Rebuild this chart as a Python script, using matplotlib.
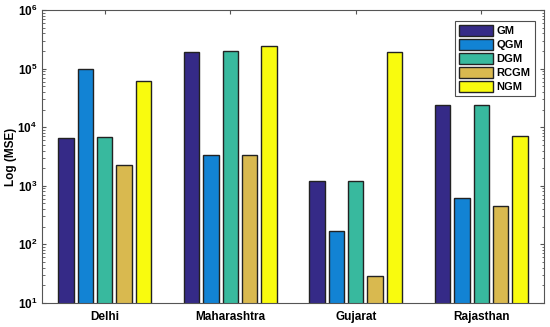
import numpy as np
import matplotlib.pyplot as plt
from matplotlib.ticker import LogLocator, NullFormatter

plt.rcParams['font.family'] = ['Liberation Sans', 'DejaVu Sans']
plt.rcParams['font.weight'] = 'bold'

# data
states = ["Delhi", "Maharashtra", "Gujarat", "Rajasthan"]
models = ["GM", "QGM", "DGM", "RCGM", "NGM"]
gm = [6600, 195000, 1200, 24000]
qgm = [98000, 3300, 167, 610]
dgm = [6700, 200000, 1220, 24000]
rcgm = [2300, 3400, 29, 450]
ngm = [62000, 245000, 195000, 7000]
series = [gm, qgm, dgm, rcgm, ngm]

colors = ["#352a87", "#1283d4", "#38b99e", "#d9b94f", "#f9fb0e"]

fig = plt.figure(figsize=(5.5, 3.27), dpi=100)
ax = fig.add_axes([42 / 550, 1 - 303 / 327, 502 / 550, 293 / 327])

x = np.arange(1, len(states) + 1)
n = len(series)
group_w = min(0.8, n / (n + 1.5))
step = group_w / n
for i, (vals, c, name) in enumerate(zip(series, colors, models)):
    offs = (i - (n - 1) / 2) * step
    ax.bar(x + offs, vals, width=step * 0.8, color=c, edgecolor="#222222",
           linewidth=1.0, label=name, zorder=2)

ax.set_yscale("log")
ax.set_ylim(10, 1e6)
ax.set_xlim(0.5, 4.5)
ax.set_xticks(x)
ax.set_xticklabels(states, fontsize=8.5, fontweight="bold")
ax.yaxis.set_major_locator(LogLocator(base=10, numticks=10))
ax.yaxis.set_minor_locator(LogLocator(base=10, subs=np.arange(2, 10), numticks=10))
ax.yaxis.set_minor_formatter(NullFormatter())
ax.tick_params(axis="both", which="both", direction="in", top=True, right=True,
               labelsize=8.5, color="#555555")
ax.tick_params(axis="x", which="minor", top=False, bottom=False)
ax.tick_params(axis="x", pad=6)
ax.tick_params(which="major", length=3)
ax.tick_params(which="minor", length=1.8)
for lbl in ax.get_yticklabels():
    lbl.set_fontweight("bold")
ylab = ax.set_ylabel("Log (MSE)", fontsize=8.5, fontweight="bold")
ax.yaxis.set_label_coords(-0.061, 0.5)
ylab.set_verticalalignment("center")
for s in ax.spines.values():
    s.set_color("#555555")
    s.set_linewidth(0.8)

leg = ax.legend(loc="upper right", bbox_to_anchor=(0.982, 0.963), fontsize=8,
                frameon=True, fancybox=False, borderpad=0.4, labelspacing=0.25,
                handlelength=3.0, handleheight=1.1, handletextpad=0.35,
                borderaxespad=0)
leg.get_frame().set_edgecolor("#222222")
leg.get_frame().set_linewidth(0.8)
for t in leg.get_texts():
    t.set_fontweight("bold")

fig.savefig("out.png", dpi=100, facecolor="white")
